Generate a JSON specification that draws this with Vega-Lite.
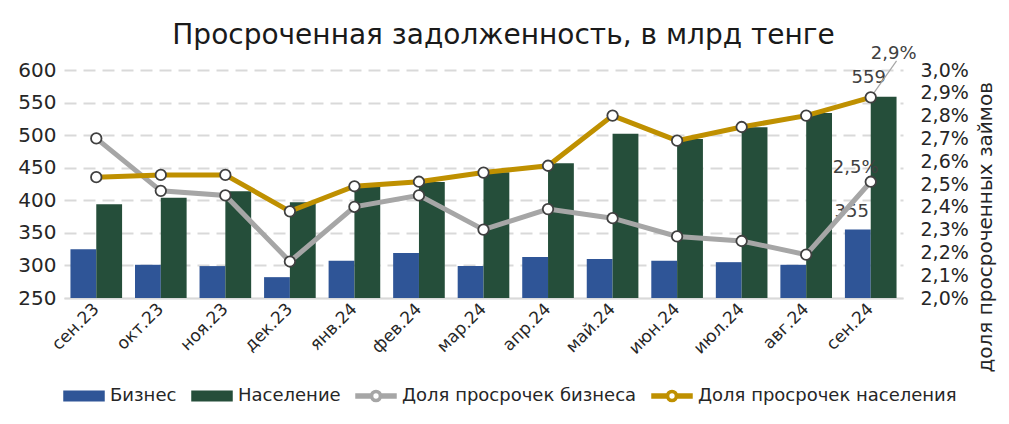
{
  "$schema": "https://vega.github.io/schema/vega-lite/v6.json",
  "width": 839,
  "height": 228,
  "autosize": {"type": "none"},
  "padding": {"left": 64, "top": 70, "right": 106, "bottom": 126},
  "background": "white",
  "title": {"text": "Просроченная задолженность, в млрд тенге", "fontSize": 28, "fontWeight": "normal", "color": "#1a1a1a", "anchor": "middle", "dx": 20, "dy": 27, "offset": 22},
  "config": {
    "font": "DejaVu Sans",
    "view": {"stroke": null},
    "locale": {"number": {"decimal": ",", "thousands": " ", "grouping": [3], "currency": ["", " ₸"]}}
  },
  "data": {"values": [
    {"m": "сен.23", "Бизнес": 325, "Население": 394, "rb": 0.0270, "rp": 0.0253},
    {"m": "окт.23", "Бизнес": 301, "Население": 404, "rb": 0.0247, "rp": 0.0254},
    {"m": "ноя.23", "Бизнес": 299, "Население": 414, "rb": 0.0245, "rp": 0.0254},
    {"m": "дек.23", "Бизнес": 282, "Население": 397, "rb": 0.0216, "rp": 0.0238},
    {"m": "янв.24", "Бизнес": 307, "Население": 421, "rb": 0.0240, "rp": 0.0249},
    {"m": "фев.24", "Бизнес": 319, "Население": 428, "rb": 0.0245, "rp": 0.0251},
    {"m": "мар.24", "Бизнес": 299, "Население": 443, "rb": 0.0230, "rp": 0.0255},
    {"m": "апр.24", "Бизнес": 313, "Население": 457, "rb": 0.0239, "rp": 0.0258},
    {"m": "май.24", "Бизнес": 310, "Население": 502, "rb": 0.0235, "rp": 0.0280},
    {"m": "июн.24", "Бизнес": 307, "Население": 494, "rb": 0.0227, "rp": 0.0269},
    {"m": "июл.24", "Бизнес": 305, "Население": 512, "rb": 0.0225, "rp": 0.0275},
    {"m": "авг.24", "Бизнес": 301, "Население": 534, "rb": 0.0219, "rp": 0.0280},
    {"m": "сен.24", "Бизнес": 355, "Население": 559, "rb": 0.0251, "rp": 0.0288}
  ]},
  "encoding": {
    "x": {
      "field": "m", "type": "nominal", "sort": null,
      "scale": {"paddingInner": 0.2, "paddingOuter": 0.1},
      "axis": {"title": null, "labelAngle": -45, "labelFontSize": 17, "labelColor": "#262626", "ticks": false, "domainColor": "#D9D9D9", "domainWidth": 1.5, "labelPadding": 8, "labelAlign": "right", "labelBaseline": "middle", "labelOverlap": false}
    }
  },
  "layer": [
    {
      "layer": [
        {
          "transform": [{"fold": ["Бизнес", "Население"], "as": ["series", "v"]}],
          "mark": {"type": "bar"},
          "encoding": {
            "xOffset": {"field": "series", "type": "nominal", "sort": ["Бизнес", "Население"], "scale": {"paddingInner": 0, "paddingOuter": 0}},
            "y": {
              "field": "v", "type": "quantitative",
              "scale": {"domain": [250, 600], "zero": false, "nice": false},
              "axis": {"title": null, "values": [250, 300, 350, 400, 450, 500, 550, 600], "tickCount": 20, "labelOverlap": false, "labelFontSize": 20, "labelColor": "#262626", "ticks": false, "domain": false, "grid": true, "gridColor": "#D9D9D9", "gridWidth": 2, "gridDash": {"condition": {"test": "datum.value == 250", "value": []}, "value": [12, 7]}, "labelPadding": 8}
            },
            "y2": {"datum": 250},
            "color": {
              "field": "series", "type": "nominal",
              "scale": {"domain": ["Бизнес", "Население", "Доля просрочек бизнеса", "Доля просрочек населения"], "range": ["#2F5597", "#254E3A", "#A6A6A6", "#BF9000"]},
              "legend": {
                "orient": "none", "legendX": -1, "legendY": 305, "direction": "horizontal", "title": null,
                "labelFontSize": 18, "labelColor": "#262626", "labelLimit": 500, "symbolSize": 1600, "columnPadding": 12, "labelOffset": 5, "padding": 0,
                "encode": {"symbols": {"update": {
                  "shape": {"signal": "indexof(['Бизнес','Население'], datum.value) >= 0 ? 'M-1,-0.24H1V0.24H-1Z' : 'M-1,-0.1H-0.28V0.1H-1Z M0.28,-0.1H1V0.1H0.28Z M0.28,0A0.28,0.28,0,1,1,-0.28,0A0.28,0.28,0,1,1,0.28,0Z M0.17,0A0.17,0.17,0,1,0,-0.17,0A0.17,0.17,0,1,0,0.17,0Z'"},
                  "fill": {"scale": "color", "field": "value"},
                  "stroke": {"value": "transparent"},
                  "opacity": {"value": 1},
                  "fillOpacity": {"value": 1}
                }}}
              }
            }
          }
        },
        {
          "transform": [{"filter": "datum.m == 'сен.24'"}],
          "mark": {"type": "text", "fontSize": 18, "color": "#404040", "dy": -19, "dx": -2},
          "encoding": {"y": {"field": "Население", "type": "quantitative"}, "text": {"field": "Население", "type": "quantitative"}}
        },
        {
          "transform": [{"filter": "datum.m == 'сен.24'"}],
          "mark": {"type": "text", "fontSize": 18, "color": "#404040", "dy": -18, "dx": -19},
          "encoding": {"y": {"field": "Бизнес", "type": "quantitative"}, "text": {"field": "Бизнес", "type": "quantitative"}}
        }
      ]
    },
    {
      "layer": [
        {
          "mark": {"type": "line", "strokeWidth": 5},
          "encoding": {
            "y": {
              "field": "rb", "type": "quantitative",
              "scale": {"domain": [0.02, 0.03], "zero": false, "nice": false},
              "axis": {"orient": "right", "title": "доля просроченных займов", "format": ".1%", "values": [0.02, 0.021, 0.022, 0.023, 0.024, 0.025, 0.026, 0.027, 0.028, 0.029, 0.03], "tickCount": 20, "labelOverlap": false, "labelFontSize": 19, "labelColor": "#262626", "ticks": false, "domain": false, "grid": false, "labelPadding": 17, "titleFontSize": 20, "titleFontWeight": "normal", "titleColor": "#262626", "titleAngle": 270, "titleX": 82, "titleY": 302, "titleAlign": "left", "titleBaseline": "middle"}
            },
            "color": {"datum": "Доля просрочек бизнеса"}
          }
        },
        {
          "mark": {"type": "line", "strokeWidth": 5},
          "encoding": {"y": {"field": "rp", "type": "quantitative"}, "color": {"datum": "Доля просрочек населения"}}
        },
        {
          "transform": [{"filter": "datum.m == 'сен.24'"}],
          "mark": {"type": "rule", "color": "#A6A6A6", "strokeWidth": 1.2},
          "encoding": {
            "y": {"field": "rp", "type": "quantitative"},
            "y2": {"datum": 0.0304},
            "x2": {"field": "m", "bandPosition": 1}
          }
        },
        {
          "mark": {"type": "point", "filled": true, "fill": "white", "stroke": "#404040", "strokeWidth": 1.8, "size": 110, "opacity": 1},
          "encoding": {"y": {"field": "rb", "type": "quantitative"}}
        },
        {
          "mark": {"type": "point", "filled": true, "fill": "white", "stroke": "#404040", "strokeWidth": 1.8, "size": 110, "opacity": 1},
          "encoding": {"y": {"field": "rp", "type": "quantitative"}}
        },
        {
          "transform": [{"filter": "datum.m == 'сен.24'"}],
          "mark": {"type": "text", "fontSize": 18, "color": "#404040", "dy": -43, "dx": 23},
          "encoding": {"y": {"field": "rp", "type": "quantitative"}, "text": {"field": "rp", "type": "quantitative", "format": ".1%"}}
        },
        {
          "transform": [{"filter": "datum.m == 'сен.24'"}],
          "mark": {"type": "text", "fontSize": 18, "color": "#404040", "dy": -14, "dx": -15},
          "encoding": {"y": {"field": "rb", "type": "quantitative"}, "text": {"field": "rb", "type": "quantitative", "format": ".1%"}}
        }
      ]
    }
  ],
  "resolve": {"scale": {"y": "independent"}}
}
